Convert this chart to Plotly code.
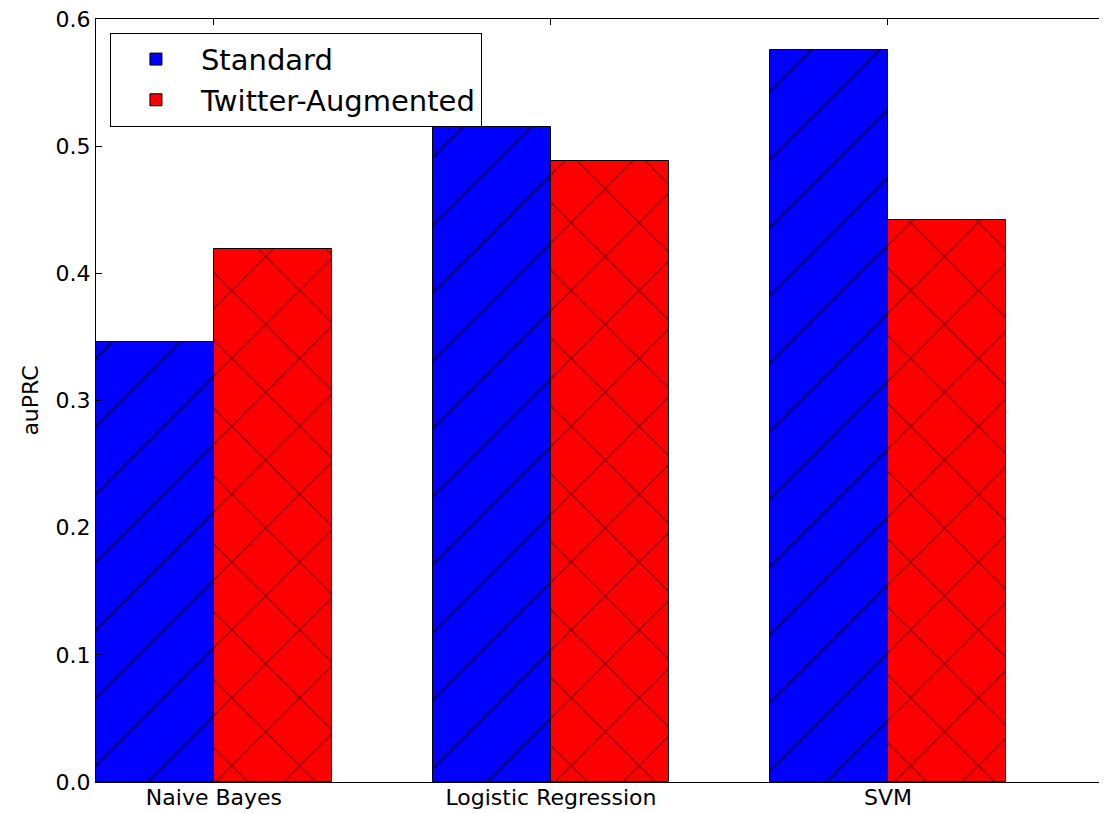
import plotly.graph_objects as go

categories = ["Naive Bayes", "Logistic Regression", "SVM"]
standard = [0.346, 0.515, 0.576]
twitter_aug = [0.419, 0.488, 0.442]
series_names = ["Standard", "Twitter-Augmented"]
ytick_vals = [0.0, 0.1, 0.2, 0.3, 0.4, 0.5, 0.6]

width = 0.35
idx = list(range(len(categories)))

fig = go.Figure()
fig.add_trace(go.Bar(
    x=[i + width / 2 for i in idx], y=standard, width=width, name=series_names[0],
    marker=dict(color="#0000ff", line=dict(color="black", width=1),
                pattern=dict(shape="/", fgcolor="black", bgcolor="#0000ff",
                             fillmode="overlay", size=48, solidity=0.05)),
))
fig.add_trace(go.Bar(
    x=[i + 1.5 * width for i in idx], y=twitter_aug, width=width, name=series_names[1],
    marker=dict(color="#ff0000", line=dict(color="black", width=1),
                pattern=dict(shape="x", fgcolor="black", bgcolor="#ff0000",
                             fillmode="overlay", size=48, solidity=0.05)),
))

font = "DejaVu Sans, sans-serif"
# page body has an 8px margin, so the figure is sized to fit the window
fig.update_layout(
    width=1099, height=805,
    margin=dict(l=88, r=0, t=11, b=31),
    paper_bgcolor="white", plot_bgcolor="white",
    font=dict(family=font, size=22, color="black"),
    showlegend=True,
    legend=dict(x=0.0138, y=0.982, xanchor="left", yanchor="top",
                bgcolor="white", bordercolor="black", borderwidth=1,
                font=dict(size=29, family=font, color="black"), traceorder="normal",
                itemwidth=80),
    bargap=0,
)
fig.update_xaxes(
    range=[0, 3], tickvals=[i + width for i in idx], ticktext=categories,
    showline=True, linecolor="black", linewidth=1, mirror="ticks",
    ticks="inside", ticklen=6, tickcolor="black", showgrid=False, zeroline=False,
    tickfont=dict(size=22, family=font, color="black"),
    ticklabeloverflow="allow", automargin=False, ticklabelstandoff=-4,
)
fig.update_yaxes(
    range=[0, 0.6], tickvals=ytick_vals, tickformat=".1f",
    showline=True, linecolor="black", linewidth=1, mirror="ticks",
    ticks="inside", ticklen=6, tickcolor="black", showgrid=False, zeroline=False,
    tickfont=dict(size=22, family=font, color="black"),
    ticklabeloverflow="allow", automargin=False,
    title=dict(text="auPRC", font=dict(size=22, family=font, color="black"), standoff=10),
)
fig.write_html("out.html")
